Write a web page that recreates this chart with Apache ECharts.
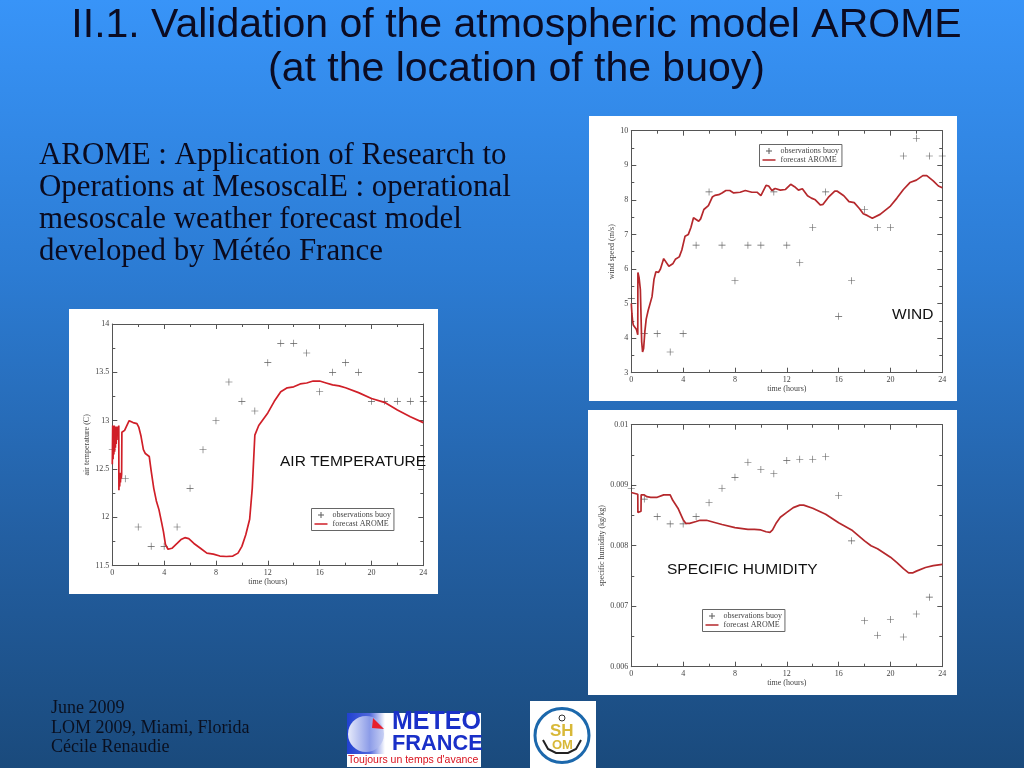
<!DOCTYPE html>
<html><head><meta charset="utf-8">
<style>html,body{margin:0;padding:0;background:#1d5590}#c{width:1024px;height:768px}</style>
<script src="https://cdn.jsdelivr.net/npm/echarts@6/dist/echarts.min.js"></script>
</head><body><div id="c"></div>
<script>
const titleLines = ["II.1. Validation of the atmospheric model AROME", "(at the location of the buoy)"];
const bodyLines = ["AROME : Application of Research to", "Operations at MesoscalE : operational", "mesoscale weather forecast model", "developed by Météo France"];
const footerLines = ["June 2009", "LOM 2009, Miami, Florida", "Cécile Renaudie"];
const obsName = "observations buoy";
const fcName = "forecast AROME";
const obsHours = [0,1,2,3,4,5,6,7,8,9,10,11,12,13,14,15,16,17,18,19,20,21,22,23,24];
const windObs = [5.15,4.13,4.13,3.6,4.13,6.69,8.23,6.69,5.66,6.69,6.69,8.23,6.69,6.18,7.2,8.23,4.63,5.66,7.72,7.2,7.2,9.27,9.78,9.27,9.27];
const humObs = [.00895,.00877,.00848,.00836,.00836,.00848,.00871,.00895,.00913,.00938,.00926,.00919,.00941,.00943,.00943,.00947,.00883,.00808,.00676,.00652,.00678,.00649,.00687,.00715,null];
const tempObs = [12.7,12.4,11.9,11.7,11.7,11.9,12.3,12.7,13.0,13.4,13.2,13.1,13.6,13.8,13.8,13.7,13.3,13.5,13.6,13.5,13.2,13.2,13.2,13.2,13.2];
const windFc = [[0,5.0],[.05,4.7],[.1,4.5],[.15,4.38],[.3,4.35],[.4,4.25],[.5,4.1],[.51,5.9],[.6,5.75],[.7,5.4],[.8,3.9],[.87,3.6],[.95,3.7],[1.05,4.2],[1.15,4.55],[1.3,4.8],[1.45,4.85],[1.6,5.2],[1.75,5.7],[1.9,5.92],[2.1,5.9],[2.25,6.0],[2.5,6.3],[2.65,6.28],[2.9,6.08],[3.05,6.05],[3.2,6.15],[3.4,6.28],[3.7,6.35],[3.9,6.55],[4.15,6.95],[4.4,7.0],[4.6,7.2],[4.8,7.48],[4.95,7.48],[5.2,7.38],[5.35,7.45],[5.6,7.72],[5.95,7.83],[6.25,8.08],[6.45,8.13],[6.75,8.15],[7,8.2],[7.3,8.27],[7.6,8.27],[7.9,8.2],[8.4,8.22],[8.8,8.27],[9.3,8.22],[9.7,8.22],[10,8.12],[10.1,8.13],[10.4,8.42],[10.6,8.4],[10.85,8.27],[11.1,8.33],[11.5,8.28],[11.9,8.3],[12.3,8.45],[12.6,8.38],[12.9,8.28],[13.2,8.32],[13.6,8.12],[13.9,8.05],[14.2,8.0],[14.6,7.85],[14.8,7.87],[15.2,8.07],[15.7,8.25],[15.9,8.25],[16.4,8.12],[16.8,7.95],[17.2,7.92],[17.6,7.75],[17.9,7.6],[18.2,7.55],[18.6,7.47],[19.2,7.58],[20,7.82],[20.5,8.05],[21,8.3],[21.5,8.5],[22,8.57],[22.5,8.7],[22.8,8.7],[23.3,8.55],[23.7,8.4],[24,8.35]];
const humFc = [[0,.00888],[.5,.00885],[.51,.00855],[.75,.00857],[.76,.00884],[1,.00884],[1.2,.00881],[1.5,.0088],[2,.0088],[2.5,.00884],[3,.00884],[3.2,.00875],[3.6,.00862],[4,.00843],[4.2,.00837],[4.5,.00837],[5,.0084],[5.3,.00842],[5.8,.00842],[6.5,.00838],[7,.00835],[8,.0083],[9,.00827],[9.5,.00827],[10,.00826],[10.4,.00823],[10.7,.00822],[10.9,.00826],[11.2,.00838],[11.5,.00847],[12,.00855],[12.5,.00863],[13,.00867],[13.3,.00867],[14,.00862],[15,.00852],[16,.00838],[17,.00826],[18,.00808],[18.5,.008],[19,.00795],[20,.00781],[20.5,.00772],[21,.00762],[21.4,.00755],[21.7,.00755],[22,.00758],[22.7,.00764],[23.3,.00767],[24,.00769]];
const tempFc = [[0,12.55],[.03,12.95],[.06,12.6],[.09,12.95],[.12,12.65],[.15,12.95],[.18,12.68],[.21,12.94],[.24,12.72],[.27,12.94],[.3,12.76],[.33,12.93],[.36,12.8],[.39,12.94],[.42,12.85],[.45,12.93],[.48,12.88],[.5,12.95],[.51,12.28],[.54,12.45],[.57,12.32],[.6,12.46],[.63,12.36],[.66,12.46],[.69,12.4],[.72,12.45],[.74,12.88],[.85,12.86],[.95,12.9],[1.1,12.92],[1.3,13.0],[1.4,13.02],[1.6,12.98],[1.9,12.97],[2.05,12.93],[2.2,12.85],[2.4,12.7],[2.55,12.66],[2.7,12.67],[2.85,12.63],[3,12.48],[3.2,12.3],[3.4,12.17],[3.6,12.08],[3.8,11.95],[3.95,11.85],[4.1,11.72],[4.3,11.67],[4.6,11.68],[5,11.73],[5.3,11.77],[5.6,11.79],[5.9,11.78],[6.3,11.73],[6.8,11.68],[7.3,11.63],[7.8,11.62],[8.3,11.6],[8.8,11.595],[9.3,11.6],[9.7,11.63],[10,11.7],[10.3,11.82],[10.6,11.98],[10.8,12.3],[11,12.85],[11.3,12.95],[12,13.08],[12.5,13.2],[13,13.3],[13.5,13.34],[14,13.35],[14.5,13.38],[15,13.39],[15.5,13.41],[16,13.41],[16.5,13.39],[17,13.37],[17.5,13.36],[18,13.34],[19,13.29],[20,13.23],[21,13.19],[22,13.11],[23,13.04],[24,12.98]];

const plus = 'path://M3.2 0H3.8V3.2H7V3.8H3.8V7H3.2V3.8H0V3.2H3.2Z';
const legendPlus = 'path://M0 0L.01 .01L0 .01ZM13 8L12.99 7.99L13 7.99ZM6 1H7V3.5H9.5V4.5H7V7H6V4.5H3.5V3.5H6Z';
const legendLine = 'path://M0 0L.01 .01L0 .01ZM13 8L12.99 7.99L13 7.99ZM0 3.2H13V4.8H0Z';
const serif = '"Liberation Serif"', sans = '"Liberation Sans"';
const axisGrey = '#555', labelGrey = '#444';

const panels = [
  {box:[589,116,368,285], grid:[631.3,130.7,311,242], y:[3,10,1,.5], name:'wind speed (m/s)', gap:11, obs:windObs, fc:windFc, leg:[759.5,144.5], line:'#b5282c', fmt:v=>String(v), tag:'WIND', tagPos:[892,307]},
  {box:[588,410,369,285], grid:[631.3,424.7,311,242], y:[.006,.01,.001,.0005], name:'specific humidity (kg/kg)', gap:20, obs:humObs, fc:humFc, leg:[702.5,609.5], line:'#b5282c', fmt:v=>v === .01 ? '0.01' : v.toFixed(3), tag:'SPECIFIC HUMIDITY', tagPos:[667,562]},
  {box:[69,309,369,285], grid:[112.3,324,311,241.7], y:[11.5,14,.5,.25], name:'air temperature (C)', gap:14, obs:tempObs, fc:tempFc, leg:[311.5,508.5], line:'#d01f28', fmt:v=>String(v), tag:'AIR TEMPERATURE', tagPos:[280,454]}
];

const grid=[], xAxis=[], yAxis=[], series=[], legend=[], graphic=[];
function box(x,y,w,h,fill,z){ return {type:'rect',shape:{x,y,width:w,height:h},style:{fill},z:z||0,silent:true}; }
function txt(t,x,y,font,fill,z){ return {type:'text',style:{text:t,x,y,font,fill,textVerticalAlign:'top'},z:z||50,silent:true}; }

panels.forEach((p,i)=>{
  const [gx,gy,gw,gh]=p.grid;
  graphic.push(box(p.box[0],p.box[1],p.box[2],p.box[3],'#ffffff',0));
  graphic.push(txt(p.tag,p.tagPos[0],p.tagPos[1],'15.5px '+sans,'#111'));
  grid.push({left:gx,top:gy,width:gw,height:gh,containLabel:false,show:false});
  const common = {type:'value',gridIndex:i,axisLine:{show:true,onZero:false,lineStyle:{color:axisGrey,width:1}},splitLine:{show:false}};
  const ticks = {axisTick:{show:true,inside:true,length:5,lineStyle:{color:axisGrey}},minorTick:{show:true,splitNumber:2,length:3,lineStyle:{color:axisGrey}}};
  const lab = {color:labelGrey,fontFamily:serif,fontSize:8};
  xAxis.push(Object.assign({},common,ticks,{min:0,max:24,interval:4,position:'bottom',name:'time (hours)',nameLocation:'middle',nameGap:12,nameTextStyle:lab,axisLabel:Object.assign({margin:3},lab)}));
  xAxis.push(Object.assign({},common,ticks,{min:0,max:24,interval:4,position:'top',axisLabel:{show:false}}));
  yAxis.push(Object.assign({},common,ticks,{min:p.y[0],max:p.y[1],interval:p.y[2],position:'left',name:p.name,nameLocation:'middle',nameGap:p.gap,nameTextStyle:lab,axisLabel:Object.assign({margin:3,formatter:p.fmt},lab)}));
  yAxis.push(Object.assign({},common,ticks,{min:p.y[0],max:p.y[1],interval:p.y[2],position:'right',axisLabel:{show:false}}));
  const xi=i*2, yi=i*2;
  series.push({name:obsName,type:'scatter',xAxisIndex:xi,yAxisIndex:yi,symbol:plus,symbolSize:7,clip:false,itemStyle:{color:'#333'},data:obsHours.map((h,k)=>[h,p.obs[k]]).filter(d=>d[1]!==null),z:3});
  series.push({name:fcName,type:'line',xAxisIndex:xi,yAxisIndex:yi,showSymbol:false,symbol:'none',lineStyle:{color:p.line,width:1.7},itemStyle:{color:p.line},data:p.fc,z:4});
  legend.push({show:true,left:p.leg[0],top:p.leg[1],orient:'vertical',padding:[2.5,3,2.5,3],itemGap:1,itemWidth:13,itemHeight:8,selectedMode:false,borderColor:'#666',borderWidth:1,backgroundColor:'#fff',
    textStyle:{fontFamily:serif,fontSize:8,color:labelGrey},
    data:[{name:obsName,icon:legendPlus,itemStyle:{color:'#333'}},{name:fcName,icon:legendLine,itemStyle:{color:p.line}}]});
});

titleLines.forEach((t,i)=>graphic.push({type:'text',style:{text:t,x:516.5,y:[5,49][i],font:'41px '+sans,fill:'#0b0b22',textAlign:'center',textVerticalAlign:'top'},z:50,silent:true}));
bodyLines.forEach((t,i)=>graphic.push(txt(t,39,140.5+i*32,'30.9px '+serif,'#0a0a1e')));
footerLines.forEach((t,i)=>graphic.push(txt(t,51,699.5+i*19.5,'18px '+serif,'#0a1020')));

// Météo-France logo
graphic.push(box(347,713,134,54,'#ffffff',5));
graphic.push({type:'rect',shape:{x:347,y:713,width:38,height:41},style:{fill:{type:'linear',x:0,y:0,x2:1,y2:0,colorStops:[{offset:0,color:'#2040d0'},{offset:.6,color:'#5068dc'},{offset:1,color:'#ffffff'}]}},z:6,silent:true});
graphic.push({type:'circle',shape:{cx:366,cy:734,r:18},style:{fill:{type:'linear',x:0,y:0,x2:1,y2:0,colorStops:[{offset:0,color:'#e6eafa'},{offset:.6,color:'#8c9ce8'},{offset:1,color:'#c8d0f4'}]}},z:7,silent:true});
graphic.push({type:'polygon',shape:{points:[[373,718],[384,729],[372,728]]},style:{fill:'#e8202c'},z:8,silent:true});
graphic.push(txt('METEO',392,710,'bold 25px '+sans,'#1a30c8',9));
graphic.push(txt('FRANCE',392,733,'bold 21.8px '+sans,'#1a30c8',9));
graphic.push(txt("Toujours un temps d'avance",348,755,'10.5px '+sans,'#d8101c',9));
// SHOM logo
graphic.push(box(530,701,66,67,'#ffffff',5));
graphic.push({type:'circle',shape:{cx:562,cy:735.5,r:27},style:{fill:'#ffffff',stroke:'#1c68ac',lineWidth:3},z:6,silent:true});
graphic.push({type:'circle',shape:{cx:562,cy:718,r:3},style:{fill:'#fff',stroke:'#333',lineWidth:1},z:7,silent:true});
graphic.push({type:'polyline',shape:{points:[[543,740],[548,749],[556,753],[568,753],[576,749],[581,740]]},style:{fill:'none',stroke:'#222',lineWidth:2},z:7,silent:true});
graphic.push(txt('SH',550,723,'bold 17px '+sans,'#d8b838',8));
graphic.push(txt('OM',552,739,'bold 13px '+sans,'#d8b838',8));

const chart = echarts.init(document.getElementById('c'),null,{width:1024,height:768,renderer:'canvas'});
chart.setOption({
  animation:false,
  backgroundColor:{type:'linear',x:0,y:0,x2:0,y2:1,colorStops:[{offset:0,color:'#3894f8'},{offset:.35,color:'#2c7cd4'},{offset:.7,color:'#235fa2'},{offset:1,color:'#1a4a7c'}]},
  grid,xAxis,yAxis,series,legend,graphic
});
</script></body></html>
